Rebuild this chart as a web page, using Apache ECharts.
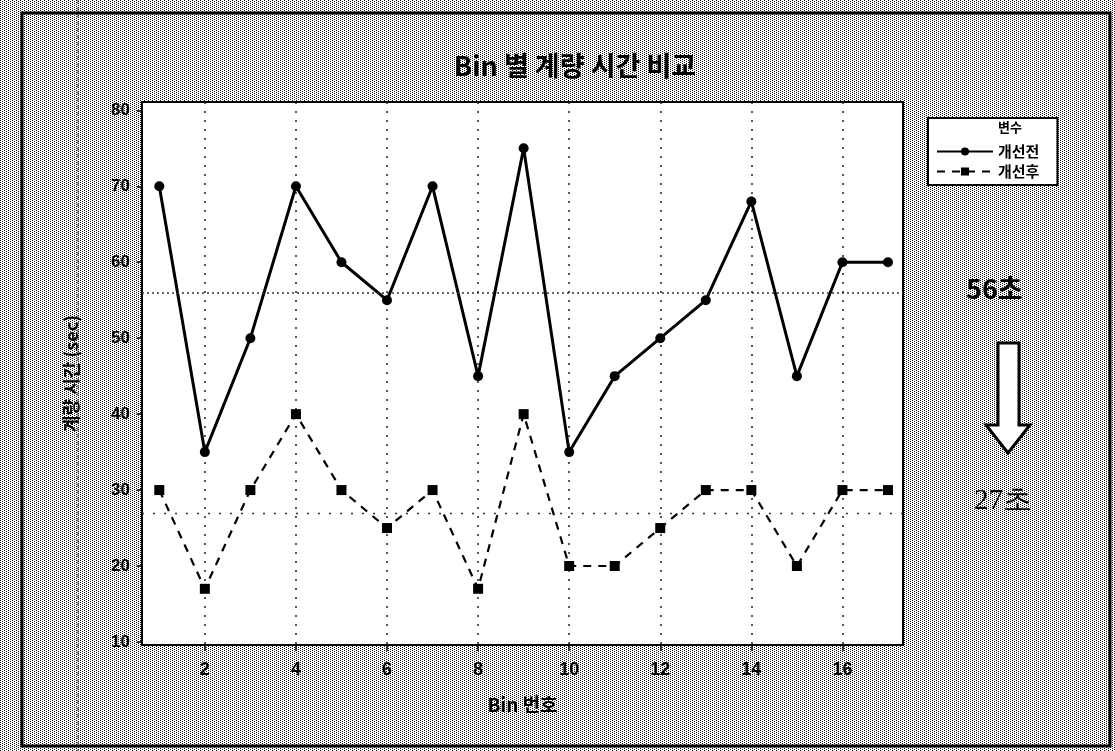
<!DOCTYPE html>
<html>
<head>
<meta charset="utf-8">
<script src="https://cdn.jsdelivr.net/npm/echarts@6/dist/echarts.min.js"></script>
<style>
  html, body { margin: 0; padding: 0; background: #fff; }
  #chart { width: 1115px; height: 751px; }
</style>
</head>
<body>
<div id="chart"></div>
<script>
// data
const bins = [1, 2, 3, 4, 5, 6, 7, 8, 9, 10, 11, 12, 13, 14, 15, 16, 17]
const before = [70, 35, 50, 70, 60, 55, 70, 45, 75, 35, 45, 50, 55, 68, 45, 60, 60]
const after = [30, 17, 30, 40, 30, 25, 30, 17, 40, 20, 20, 25, 30, 30, 20, 30, 30]
const xTicks = [2, 4, 6, 8, 10, 12, 14, 16]
const yTicks = [10, 20, 30, 40, 50, 60, 70, 80]
const meanBefore = 56
const meanAfter = 27

const labelFont = 'Liberation Sans'
const krFont = 'Noto Sans CJK KR'

// halftone-ish background tile
const tile = document.createElement('canvas')
tile.width = 4
tile.height = 4
const tctx = tile.getContext('2d')
tctx.fillStyle = '#ffffff'
tctx.fillRect(0, 0, 4, 4)
tctx.fillStyle = '#111111'
;[[0, 0], [2, 1], [0, 2], [2, 3]].forEach(([x, y]) => tctx.fillRect(x, y, 1, 1))

const chart = echarts.init(document.getElementById('chart'))

const option = {
  backgroundColor: { image: tile, repeat: 'repeat' },
  animation: false,
  title: {
    text: 'Bin 별 계량 시간 비교',
    left: 570,
    textAlign: 'center',
    top: 47,
    textStyle: { fontFamily: krFont, fontSize: 27, fontWeight: 'bold', color: '#000' },
  },
  grid: {
    left: 142,
    right: 212,
    top: 102,
    bottom: 106,
    show: true,
    backgroundColor: '#fff',
    borderColor: '#000',
    borderWidth: 2,
  },
  legend: {
    orient: 'vertical',
    left: 928,
    top: 118,
    width: 150,
    padding: [26, 18, 6, 8],
    backgroundColor: '#fff',
    borderColor: '#000',
    borderWidth: 2,
    itemWidth: 56,
    itemHeight: 10,
    itemGap: 5,
    textStyle: { fontFamily: krFont, fontSize: 15, fontWeight: 'bold', color: '#000' },
    data: ['개선전', '개선후'],
  },
  xAxis: {
    type: 'value',
    min: 0.62,
    max: 17.33,
    name: 'Bin 번호',
    nameLocation: 'middle',
    nameGap: 50,
    nameTextStyle: { fontFamily: krFont, fontSize: 19, fontWeight: 'bold', color: '#000' },
    axisLine: { lineStyle: { color: '#000', width: 2 } },
    axisTick: { show: true, length: 6, customValues: xTicks, lineStyle: { color: '#000', width: 1.5 } },
    axisLabel: {
      customValues: xTicks,
      margin: 16,
      fontFamily: labelFont,
      fontSize: 18,
      fontWeight: 'bold',
      color: '#000',
    },
    splitLine: { show: true, lineStyle: { color: '#222', width: 1.5, type: [2, 7] } },
  },
  yAxis: {
    type: 'value',
    min: 9.6,
    max: 81.1,
    name: '계량 시간 (sec)',
    nameLocation: 'middle',
    nameGap: 62,
    nameTextStyle: { fontFamily: krFont, fontSize: 18, fontWeight: 'bold', color: '#000' },
    axisLine: { show: true, lineStyle: { color: '#000', width: 2 } },
    axisTick: { show: true, length: 5, customValues: yTicks, lineStyle: { color: '#000', width: 1.5 } },
    axisLabel: {
      customValues: yTicks,
      margin: 12,
      fontFamily: labelFont,
      fontSize: 17,
      fontWeight: 'bold',
      color: '#000',
    },
    splitLine: { show: false },
  },
  series: [
    {
      name: '개선전',
      type: 'line',
      data: bins.map((b, i) => [b, before[i]]),
      symbol: 'circle',
      symbolSize: 10,
      itemStyle: { color: '#000' },
      lineStyle: { color: '#000', width: 3 },
      z: 3,
      markLine: {
        silent: true,
        symbol: 'none',
        label: { show: false },
        lineStyle: { color: '#333', width: 1.5, type: [2, 3] },
        data: [{ yAxis: meanBefore }],
      },
    },
    {
      name: '개선후',
      type: 'line',
      data: bins.map((b, i) => [b, after[i]]),
      symbol: 'rect',
      symbolSize: 10,
      itemStyle: { color: '#000' },
      lineStyle: { color: '#000', width: 2.2, type: [8, 7] },
      z: 3,
      markLine: {
        silent: true,
        symbol: 'none',
        label: { show: false },
        lineStyle: { color: '#333', width: 1.3, type: [2, 9] },
        data: [{ yAxis: meanAfter }],
      },
    },
  ],
  graphic: [
    // outer frame
    {
      type: 'rect',
      shape: { x: 22, y: 13, width: 1088, height: 733 },
      style: { fill: null, stroke: '#000', lineWidth: 3 },
      silent: true,
    },
    // scan line
    {
      type: 'line',
      shape: { x1: 78, y1: 0, x2: 78, y2: 751 },
      style: { stroke: '#333', lineWidth: 1, lineDash: [4, 3] },
      silent: true,
    },
    // legend heading
    {
      type: 'text',
      left: 998,
      top: 121,
      style: { text: '변수', fontFamily: krFont, fontSize: 13, fontWeight: 'bold', fill: '#000' },
      z: 10,
    },
    {
      type: 'text',
      left: 966,
      top: 275,
      style: { text: '56초', fontFamily: krFont, fontSize: 27, fontWeight: 'bold', fill: '#000' },
    },
    // hollow down arrow
    {
      type: 'polygon',
      shape: {
        points: [[998, 343], [1019, 343], [1019, 425], [1030, 425], [1008, 453], [986, 425], [998, 425]],
      },
      style: { fill: '#fff', stroke: '#000', lineWidth: 3 },
    },
    {
      type: 'text',
      left: 974,
      top: 487,
      style: { text: '27초', fontFamily: 'Liberation Serif', fontSize: 29, fill: '#000' },
    },
  ],
}

chart.setOption(option)

window.addEventListener('resize', () => chart.resize())
</script>
</body>
</html>
